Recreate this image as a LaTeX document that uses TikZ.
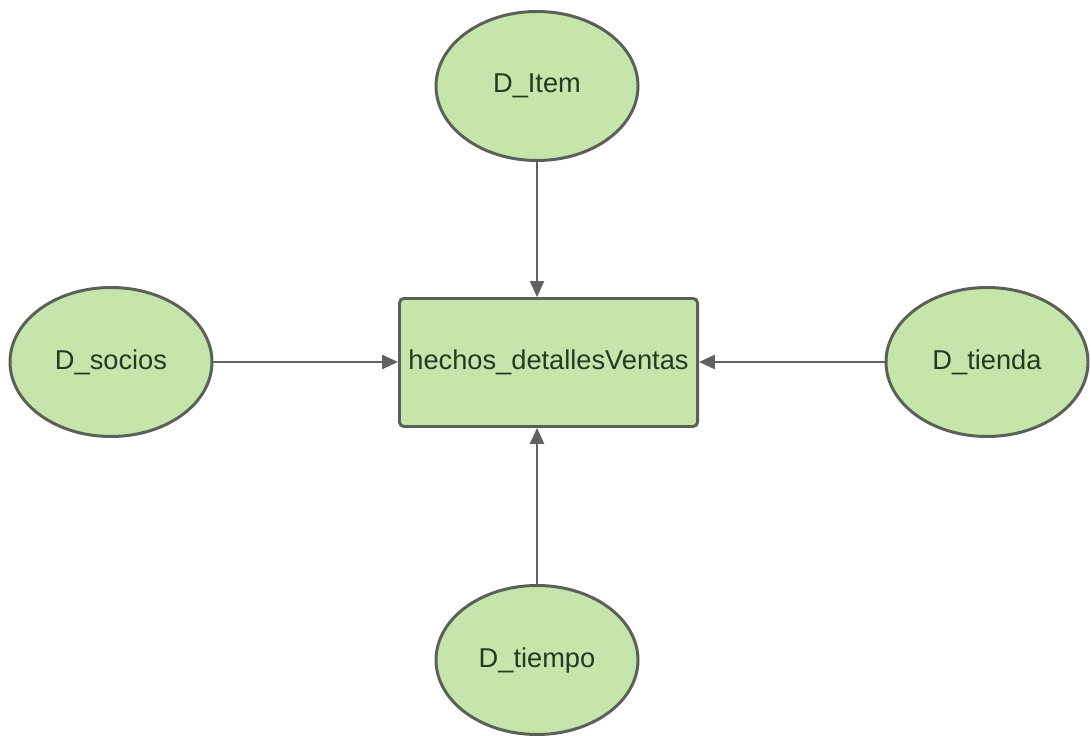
\documentclass[tikz,border=0pt]{standalone}
\usepackage{fontspec}
\setmainfont{Liberation Sans}
\usetikzlibrary{shapes.geometric, arrows.meta}

\definecolor{dimfill}{HTML}{C5E5AA}
\definecolor{dimline}{HTML}{5B6058}
\definecolor{linkgray}{HTML}{616161}
\definecolor{labelgreen}{HTML}{243A22}

\tikzset{
    dimension/.style = {ellipse, draw = dimline, fill = dimfill, line width = 1.7pt,
        minimum width = 4.04cm, minimum height = 2.98cm, inner sep = 0pt,
        text = labelgreen, font = \fontsize{15.5}{18}\selectfont},
    facts/.style = {rectangle, rounded corners = 2.5pt, draw = dimline, fill = dimfill,
        line width = 1.7pt, minimum width = 5.96cm, minimum height = 2.56cm,
        inner sep = 0pt, text = labelgreen, font = \fontsize{15.5}{18}\selectfont},
    link/.style = {draw = linkgray, line width = 1.1pt,
        -{Triangle[length = 9pt, width = 8pt]}}
}

\begin{document}
\begin{tikzpicture}
    \useasboundingbox (0,0) rectangle (21.82,14.72);
    % fact table in the middle
    \node[facts] (hechos) at (10.97,7.47) {hechos\_detallesVentas};
    % dimensions around it
    \node[dimension] (item) at (10.74,13.0) {D\_Item};
    \node[dimension] (socios) at (2.22,7.48) {D\_socios};
    \node[dimension] (tienda) at (19.74,7.48) {D\_tienda};
    \node[dimension] (tiempo) at (10.74,1.52) {D\_tiempo};
    % links
    \draw[link] (item.south) -- (item.south |- hechos.north);
    \draw[link] (socios.east) -- (hechos.west |- socios.east);
    \draw[link] (tienda.west) -- (hechos.east |- tienda.west);
    \draw[link] (tiempo.north) -- (tiempo.north |- hechos.south);
\end{tikzpicture}
\end{document}
